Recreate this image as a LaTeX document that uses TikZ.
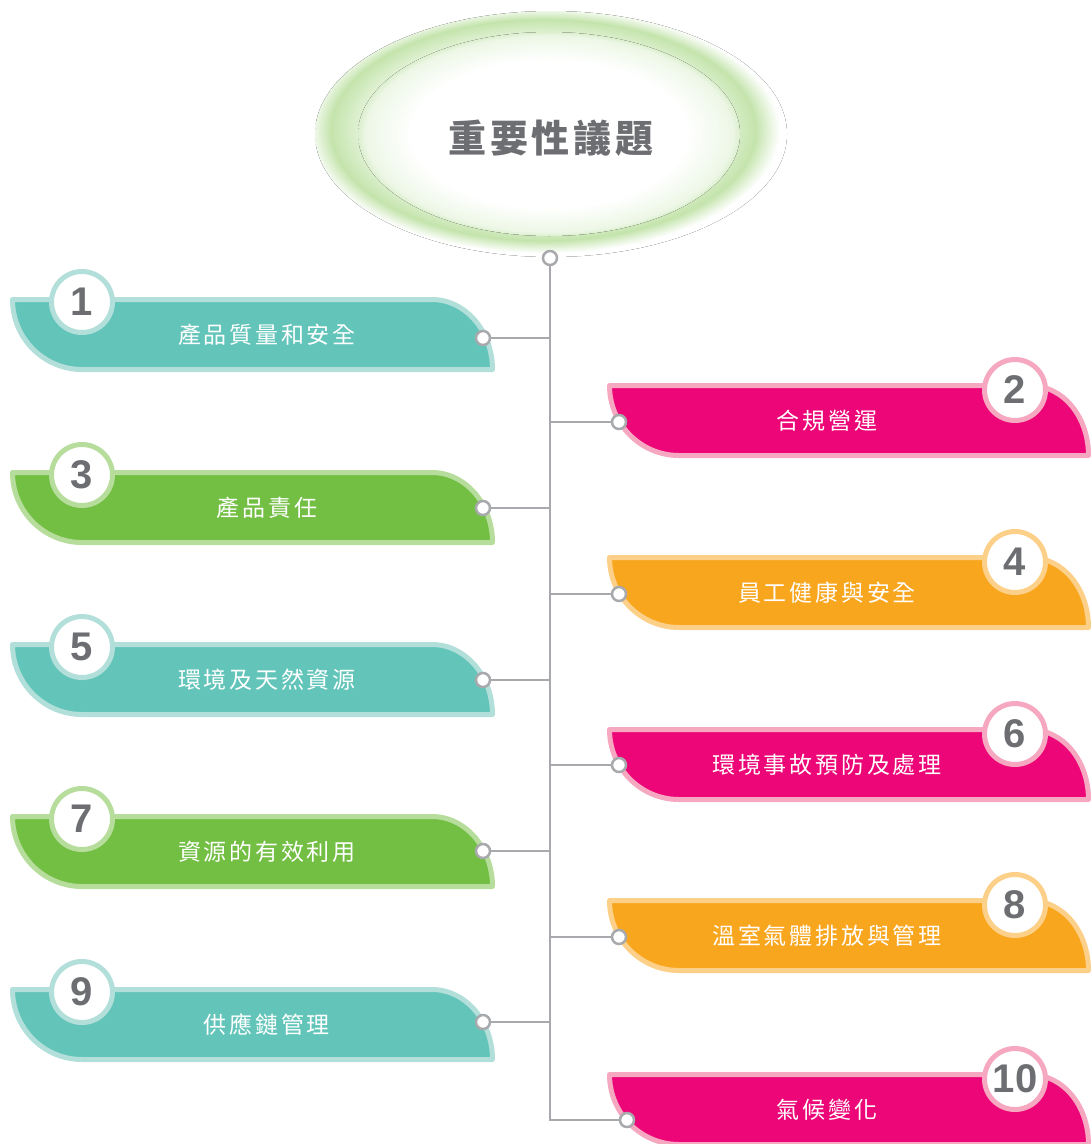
\documentclass[tikz,border=0pt]{standalone}
\usepackage{fontspec}
\setmainfont{Liberation Sans}
\newfontfamily\cjk[LetterSpace=12]{Noto Sans CJK TC}
\newfontfamily\cjktitle[LetterSpace=10]{Noto Sans CJK TC}
\usetikzlibrary{positioning}
\definecolor{tealF}{HTML}{63C5BA}
\definecolor{tealL}{HTML}{B2DFDA}
\definecolor{leafF}{HTML}{73BF44}
\definecolor{leafL}{HTML}{B7DD9C}
\definecolor{roseF}{HTML}{EC0677}
\definecolor{roseL}{HTML}{F5A8C0}
\definecolor{sunF}{HTML}{F9A61F}
\definecolor{sunL}{HTML}{FDD08A}
\definecolor{numgray}{HTML}{6D6E71}
\definecolor{lineG}{HTML}{A7A9AC}
\definecolor{glowA}{HTML}{EDF7E6}
\definecolor{glowB}{HTML}{C4E4AC}
\definecolor{glowC}{HTML}{DCEFCF}
\pgfdeclareradialshading{outerglow}{\pgfpoint{-1.5bp}{1.5bp}}{color(0bp)=(white); color(13bp)=(white); color(18bp)=(glowA); color(22.5bp)=(glowB); color(24.2bp)=(glowA); color(25bp)=(white); color(50bp)=(white)}
\pgfdeclareradialshading{innerglow}{\pgfpoint{0bp}{0bp}}{color(0bp)=(white); color(18bp)=(white); color(24bp)=(glowA); color(25bp)=(glowC); color(50bp)=(glowC)}
\tikzstyle{bar} = [line width=5pt, line join=round]
\tikzset{paint/.style={fill=#1F, draw=#1L}}
\tikzstyle{ring} = [circle, fill=white, line width=5pt, minimum size=61pt, inner sep=0pt, text=numgray, font=\bfseries\fontsize{40}{40}\selectfont]
\tikzstyle{dot} = [circle, draw=lineG, fill=white, line width=2.5pt, minimum size=14pt, inner sep=0pt]
\tikzstyle{conn} = [draw=lineG, line width=2pt]
\tikzstyle{lbl} = [text=white, inner sep=0pt, font=\cjk\fontsize{23}{23}\selectfont]
\tikzstyle{title} = [text=numgray, font=\cjktitle\bfseries\fontsize{38}{38}\selectfont]

\begin{document}
\begin{tikzpicture}[x=1pt, y=-1pt]
	\useasboundingbox (0,0) rectangle (1091,1144);
	% centre ellipse
	\fill[shading=outerglow] (551,134) ellipse [x radius=236, y radius=123];
	\fill[shading=innerglow] (549,134) ellipse [x radius=191, y radius=102];
	\node[title] (head) at (551,138) {重要性議題};
	\node[dot] (hub) at (550,258) {};
	% left side
	\foreach \n/\t/\d/\txt/\c in {1/297/338/產品質量和安全/teal, 3/470/508/產品責任/leaf, 5/642/680/環境及天然資源/teal, 7/814/851/資源的有效利用/leaf, 9/987/1022/供應鏈管理/teal}{
		\filldraw[bar, paint=\c] (12.5,{\t+2.5}) -- (432,{\t+2.5}) .. controls (465,{\t+2.5}) and (492.5,{\t+33.5}) .. (492.5,{\t+72.5})
			-- (82,{\t+72.5}) .. controls (44,{\t+72.5}) and (12.5,{\t+41.5}) .. cycle;
		\node[ring, draw=\c L] (n\n) at (82,{\t+5}) {\n};
		\node[lbl] (t\n) at (267,{\t+38}) {\txt};
		\node[dot] (d\n) at (483,\d) {};
		\draw[conn] (d\n) -- (d\n -| hub);
	}
	% right side
	\foreach \n/\t/\dx/\d/\txt/\c in {2/383/619/422/合規營運/rose, 4/555/619/594/員工健康與安全/sun, 6/727/619/765/環境事故預防及處理/rose, 8/898/619/937/溫室氣體排放與管理/sun, 10/1072/627/1120/氣候變化/rose}{
		\filldraw[bar, paint=\c] (609.5,{\t+2.5}) -- (1030,{\t+2.5}) .. controls (1063,{\t+2.5}) and (1088.5,{\t+33.5}) .. (1088.5,{\t+72.5})
			-- (679,{\t+72.5}) .. controls (641,{\t+72.5}) and (609.5,{\t+41.5}) .. cycle;
		\node[ring, draw=\c L] (n\n) at (1015,{\t+7}) {\n};
		\node[lbl] (t\n) at (827,{\t+38}) {\txt};
		\node[dot] (d\n) at (\dx,\d) {};
	}
	\foreach \n in {2,4,6,8}
		\draw[conn] (d\n) -- (d\n -| hub);
	\draw[conn] (hub) |- (d10);
\end{tikzpicture}
\end{document}
